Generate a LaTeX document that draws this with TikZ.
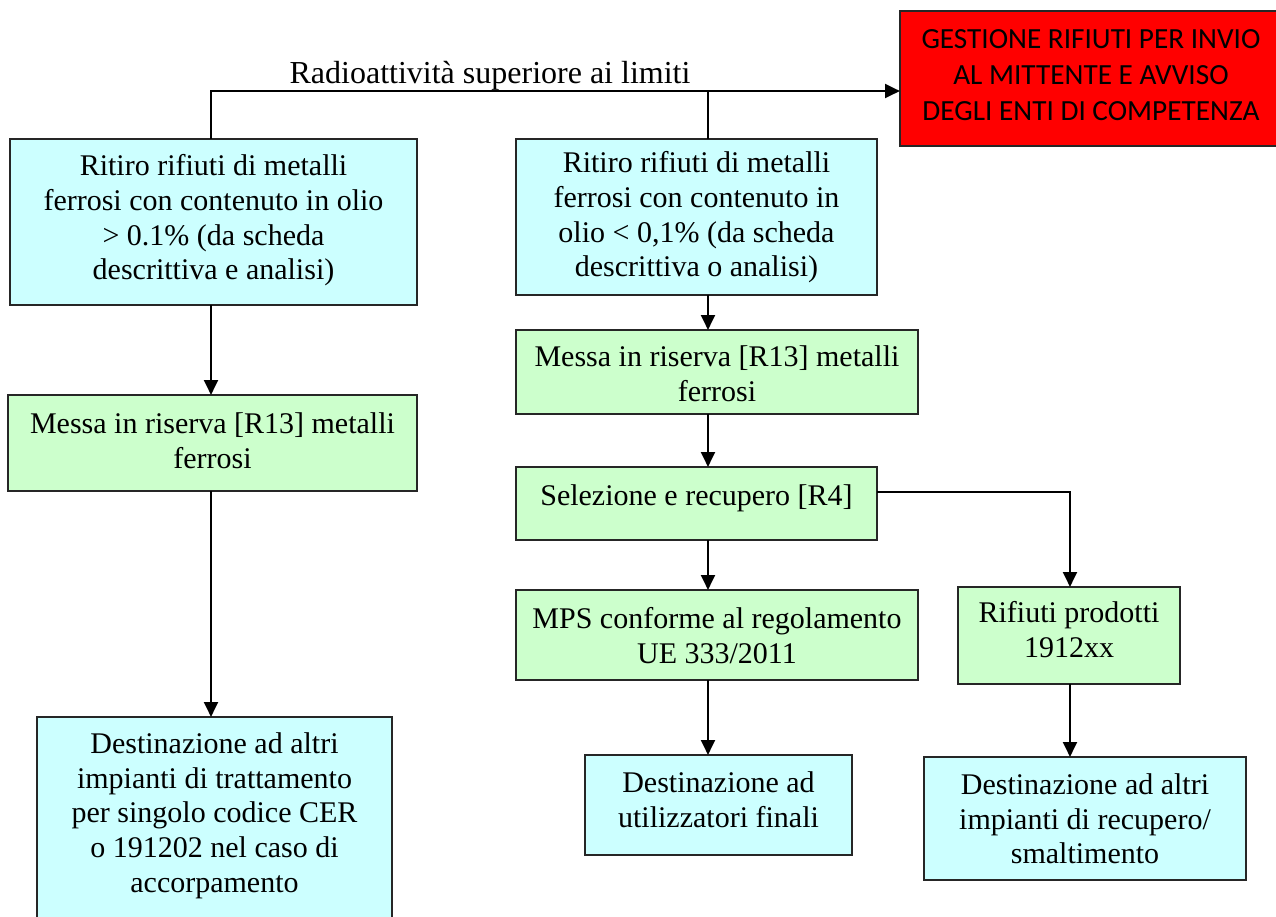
\documentclass[tikz,border=0pt]{standalone}
\usepackage{fontspec}
\setmainfont{Liberation Serif}
\newfontfamily\calib{Carlito}
\usetikzlibrary{arrows.meta}
\definecolor{cy}{HTML}{CCFFFF}
\definecolor{gr}{HTML}{CCFFCC}
\definecolor{rd}{HTML}{FF0000}
\begin{document}
\begin{tikzpicture}[x=0.4pt,y=-0.4pt,
  bx/.style={draw=black!85, line width=0.8pt, inner sep=0pt, outer sep=0pt},
  cyanbox/.style={bx, fill=cy},
  greenbox/.style={bx, fill=gr},
  redbox/.style={bx, fill=rd},
  txt/.style={align=center, inner sep=0pt, anchor=north, font=\fontsize{12}{13.9}\selectfont},
  rtxt/.style={align=center, inner sep=0pt, anchor=north, font=\calib\fontsize{11.7}{14.4}\selectfont},
  ln/.style={line width=1.1pt},
  arr/.style={line width=1.1pt, -{Triangle[length=6pt,width=5.5pt]}}
]
\useasboundingbox (0,0) rectangle (1276,916);
\fill[white] (0,0) rectangle (1276,916);

% column coordinates
\coordinate (cl) at (211,0);
\coordinate (cm) at (708,0);
\coordinate (cr) at (1070,0);
\coordinate (jl) at (211,91);
\coordinate (rb) at (1070,492);

% red box
\node[redbox, minimum width=382*0.4pt, minimum height=135*0.4pt] (R) at (1091,78.5) {};
\node[rtxt] (Rt) at (1091,29) {GESTIONE RIFIUTI PER INVIO\\AL MITTENTE E AVVISO\\DEGLI ENTI DI COMPETENZA};

% left column
\node[cyanbox, minimum width=407*0.4pt, minimum height=166*0.4pt] (A) at (213.5,222) {};
\node[txt] (At) at (213.5,154) {Ritiro rifiuti di metalli\\ferrosi con contenuto in olio\\> 0.1\% (da scheda\\descrittiva e analisi)};

\node[greenbox, minimum width=409*0.4pt, minimum height=96*0.4pt] (C) at (212.5,443) {};
\node[txt] (Ct) at (212.5,412) {Messa in riserva [R13] metalli\\ferrosi};

\node[cyanbox, minimum width=355*0.4pt, minimum height=216*0.4pt] (J) at (214.5,825) {};
\node[txt] (Jt) at (214.5,732) {Destinazione ad altri\\impianti di trattamento\\per singolo codice CER\\o 191202 nel caso di\\accorpamento};

% middle column
\node[cyanbox, minimum width=361*0.4pt, minimum height=156*0.4pt] (B) at (696.5,217) {};
\node[txt] (Bt) at (696.5,151) {Ritiro rifiuti di metalli\\ferrosi con contenuto in\\olio < 0,1\% (da scheda\\descrittiva o analisi)};

\node[greenbox, minimum width=402*0.4pt, minimum height=84*0.4pt] (D) at (717,372) {};
\node[txt] (Dt) at (717,345) {Messa in riserva [R13] metalli\\ferrosi};

\node[greenbox, minimum width=361*0.4pt, minimum height=73*0.4pt] (E) at (696.5,503.5) {};
\node[txt] (Et) at (696.5,484) {Selezione e recupero [R4]};

\node[greenbox, minimum width=402*0.4pt, minimum height=90*0.4pt] (F) at (717,635) {};
\node[txt] (Ft) at (717,607) {MPS conforme al regolamento\\UE 333/2011};

\node[cyanbox, minimum width=267*0.4pt, minimum height=100*0.4pt] (H) at (718.5,805) {};
\node[txt] (Ht) at (718.5,771) {Destinazione ad\\utilizzatori finali};

% right column
\node[greenbox, minimum width=222*0.4pt, minimum height=97*0.4pt] (G) at (1069,635.5) {};
\node[txt] (Gt) at (1069,601) {Rifiuti prodotti\\1912xx};

\node[cyanbox, minimum width=322*0.4pt, minimum height=123*0.4pt] (I) at (1085,818.5) {};
\node[txt] (It) at (1085,773) {Destinazione ad altri\\impianti di recupero/\\smaltimento};

% label
\node[anchor=base, inner sep=0pt, font=\fontsize{12.8}{14}\selectfont] (L) at (490,83) {Radioattività superiore ai limiti};

% connectors
\draw[arr] (A.north -| cl) -- (jl) -- (R.west |- jl);
\draw[ln] (B.north -| cm) -- (cm |- jl);
\draw[arr] (A.south -| cl) -- (C.north -| cl);
\draw[arr] (C.south -| cl) -- (J.north -| cl);
\draw[arr] (B.south -| cm) -- (D.north -| cm);
\draw[arr] (D.south -| cm) -- (E.north -| cm);
\draw[arr] (E.south -| cm) -- (F.north -| cm);
\draw[arr] (F.south -| cm) -- (H.north -| cm);
\draw[arr] (E.east |- rb) -- (rb) -- (G.north -| cr);
\draw[arr] (G.south -| cr) -- (I.north -| cr);
\end{tikzpicture}
\end{document}
